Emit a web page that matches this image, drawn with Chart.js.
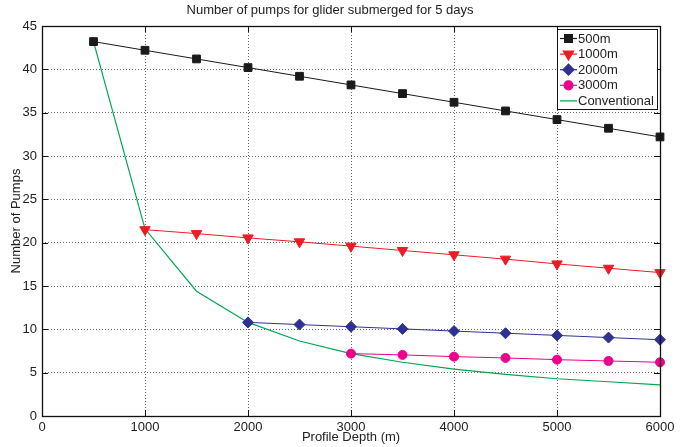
<!DOCTYPE html>
<html>
<head>
<meta charset="utf-8">
<script src="https://cdn.jsdelivr.net/npm/chart.js@4.4.0/dist/chart.umd.min.js"></script>
<style>
html, body { margin: 0; padding: 0; background: #fff; }
</style>
</head>
<body>
<canvas id="myChart" width="689" height="447"></canvas>
<script>
// values
const depths = [500, 1000, 1500, 2000, 2500, 3000, 3500, 4000, 4500, 5000, 5500, 6000];
const pumps500 = [43.2, 42.2, 41.2, 40.2, 39.2, 38.2, 37.2, 36.2, 35.2, 34.2, 33.2, 32.2];
const pumps1000 = [null, 21.5, 21.05, 20.55, 20.1, 19.6, 19.1, 18.6, 18.1, 17.55, 17.05, 16.55];
const pumps2000 = [null, null, null, 10.8, 10.55, 10.3, 10.05, 9.8, 9.55, 9.3, 9.05, 8.8];
const pumps3000 = [null, null, null, null, null, 7.2, 7.05, 6.85, 6.7, 6.5, 6.35, 6.2];
const conventional = [43.2, 21.6, 14.4, 10.8, 8.65, 7.2, 6.2, 5.4, 4.8, 4.3, 3.95, 3.6];
const seriesNames = ['500m', '1000m', '2000m', '3000m', 'Conventional'];
const xTicks = [0, 1000, 2000, 3000, 4000, 5000, 6000];
const yTicks = [0, 5, 10, 15, 20, 25, 30, 35, 40, 45];

const FONT = "'Liberation Sans', Arial, Helvetica, sans-serif";
const TEXT = '#222';
const FS = 13;

function toPoints(arr) {
    return depths.map((x, i) => ({ x: x, y: arr[i] })).filter(p => p.y !== null);
}

// box around the plot, inward ticks and the legend
const framePlugin = {
    id: 'frame',
    afterDraw(chart) {
        const ctx = chart.ctx;
        const a = chart.chartArea;
        const xs = chart.scales.x, ys = chart.scales.y;
        ctx.save();
        ctx.strokeStyle = '#111';
        ctx.lineWidth = 1;
        ctx.beginPath();
        xTicks.forEach(v => {
            const px = Math.round(xs.getPixelForValue(v)) + 0.5;
            ctx.moveTo(px, a.bottom); ctx.lineTo(px, a.bottom - 6);
            ctx.moveTo(px, a.top); ctx.lineTo(px, a.top + 6);
        });
        yTicks.forEach(v => {
            const py = Math.round(ys.getPixelForValue(v)) + 0.5;
            ctx.moveTo(a.left, py); ctx.lineTo(a.left + 6, py);
            ctx.moveTo(a.right, py); ctx.lineTo(a.right - 6, py);
        });
        ctx.stroke();
        ctx.lineWidth = 1.3;
        ctx.strokeRect(Math.round(a.left) + 0.5, Math.round(a.top) + 0.5, Math.round(a.right - a.left), Math.round(a.bottom - a.top));

        // legend
        const w = 100, h = 80;
        const lx = a.right - 3 - w, ly = a.top + 3;
        ctx.fillStyle = '#fff';
        ctx.fillRect(lx, ly, w, h);
        ctx.lineWidth = 1;
        ctx.strokeStyle = '#111';
        ctx.strokeRect(lx + 0.5, ly + 0.5, w, h);
        ctx.font = FS + 'px ' + FONT;
        ctx.textBaseline = 'middle';
        ctx.textAlign = 'left';
        chart.data.datasets.forEach((ds, i) => {
            const cy = ly + 9.5 + i * 15.6;
            ctx.strokeStyle = ds.borderColor;
            ctx.lineWidth = 1.2;
            ctx.beginPath();
            ctx.moveTo(lx + 3, cy); ctx.lineTo(lx + 20, cy);
            ctx.stroke();
            if (ds.pointRadius > 0) {
                ctx.fillStyle = ds.pointBackgroundColor;
                ctx.strokeStyle = ds.pointBorderColor;
                Chart.helpers.drawPoint(ctx, {
                    pointStyle: ds.pointStyle,
                    rotation: ds.pointRotation || 0,
                    radius: ds.pointRadius,
                    borderWidth: 1
                }, lx + 11.5, cy);
            }
            ctx.fillStyle = TEXT;
            ctx.fillText(ds.label, lx + 21, cy + 0.5);
        });
        ctx.restore();
    }
};

const ctx = document.getElementById('myChart').getContext('2d');
const myChart = new Chart(ctx, {
    type: 'line',
    data: {
        datasets: [
            {
                label: seriesNames[0],
                data: toPoints(pumps500),
                borderColor: '#1a1a1a',
                borderWidth: 1,
                pointStyle: 'rect',
                pointRadius: 5.5,
                pointBackgroundColor: '#1a1a1a',
                pointBorderColor: '#1a1a1a',
                clip: false
            },
            {
                label: seriesNames[1],
                data: toPoints(pumps1000),
                borderColor: 'rgb(237, 28, 36)',
                borderWidth: 1,
                pointStyle: 'triangle',
                pointRotation: 180,
                pointRadius: 6,
                pointBackgroundColor: 'rgb(237, 28, 36)',
                pointBorderColor: 'rgb(237, 28, 36)',
                clip: false
            },
            {
                label: seriesNames[2],
                data: toPoints(pumps2000),
                borderColor: 'rgb(46, 49, 146)',
                borderWidth: 1,
                pointStyle: 'rectRot',
                pointRadius: 5.5,
                pointBackgroundColor: 'rgb(46, 49, 146)',
                pointBorderColor: 'rgb(46, 49, 146)',
                clip: false
            },
            {
                label: seriesNames[3],
                data: toPoints(pumps3000),
                borderColor: 'rgb(236, 0, 140)',
                borderWidth: 1,
                pointStyle: 'circle',
                pointRadius: 4.5,
                pointBackgroundColor: 'rgb(236, 0, 140)',
                pointBorderColor: 'rgb(236, 0, 140)',
                clip: false
            },
            {
                label: seriesNames[4],
                data: toPoints(conventional),
                borderColor: 'rgb(0, 166, 81)',
                borderWidth: 1.2,
                pointRadius: 0,
                clip: false
            }
        ]
    },
    options: {
        responsive: false,
        animation: false,
        events: [],
        layout: { padding: { left: 0, right: 29, top: 0, bottom: 0 } },
        plugins: {
            legend: { display: false },
            tooltip: { enabled: false },
            title: {
                display: true,
                text: 'Number of pumps for glider submerged for 5 days',
                color: TEXT,
                font: { family: FONT, size: FS, weight: 'normal' },
                padding: { top: 3, bottom: 7.4 }
            }
        },
        scales: {
            x: {
                type: 'linear',
                min: 0,
                max: 6000,
                afterBuildTicks: s => { s.ticks = xTicks.map(v => ({ value: v })); },
                ticks: {
                    color: TEXT,
                    font: { family: FONT, size: FS },
                    padding: 4,
                    maxRotation: 0,
                    callback: v => String(v)
                },
                grid: { color: 'rgba(0,0,0,0.6)', lineWidth: 1, drawTicks: false },
                border: { display: false, dash: [1, 2] },
                title: {
                    display: true,
                    text: 'Profile Depth (m)',
                    color: TEXT,
                    font: { family: FONT, size: FS },
                    padding: { top: 0, bottom: 2 }
                },
                afterFit: s => { s.height = 31; }
            },
            y: {
                min: 0,
                max: 45,
                afterBuildTicks: s => { s.ticks = yTicks.map(v => ({ value: v })); },
                ticks: {
                    color: TEXT,
                    font: { family: FONT, size: FS },
                    padding: 5
                },
                grid: { color: 'rgba(0,0,0,0.6)', lineWidth: 1, drawTicks: false },
                border: { display: false, dash: [1, 2] },
                title: {
                    display: true,
                    text: 'Number of Pumps',
                    color: TEXT,
                    font: { family: FONT, size: FS },
                    padding: { top: 9, bottom: 0 }
                },
                afterFit: s => { s.width = 42; }
            }
        }
    },
    plugins: [framePlugin]
});
</script>
</body>
</html>
